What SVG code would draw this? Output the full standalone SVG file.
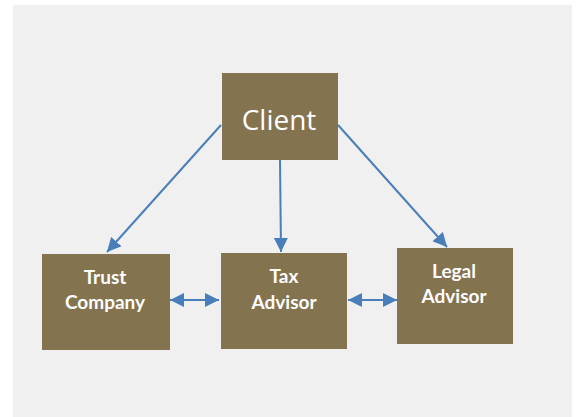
<svg xmlns="http://www.w3.org/2000/svg" width="577" height="417" viewBox="0 0 577 417">
<style>
.box{fill:#84734f}
.lbl{fill:#fff;font-family:Lato,"Open Sans","Liberation Sans",sans-serif;font-weight:bold;font-size:19px;text-anchor:middle}
.big{fill:#fff;font-family:"Open Sans","Liberation Sans",sans-serif;font-size:28px;text-anchor:middle}
.con{stroke:#4a7ebb;stroke-width:2;fill:none}
</style>
<defs>
<marker id="ah" viewBox="0 0 14 14" refX="14" refY="7" markerWidth="14" markerHeight="14" markerUnits="userSpaceOnUse" orient="auto-start-reverse">
<path d="M0,0 L14,7 L0,14 Z" fill="#4a7ebb"/>
</marker>
</defs>
<rect x="13" y="5" width="559" height="412" fill="#f0f0f0"/>
<g id="connectors">
<line class="con" x1="221" y1="125" x2="107" y2="252" marker-end="url(#ah)"/>
<line class="con" x1="280" y1="160" x2="281" y2="252" marker-end="url(#ah)"/>
<line class="con" x1="338" y1="125" x2="447" y2="247" marker-end="url(#ah)"/>
<line class="con" x1="170" y1="300" x2="219" y2="300" marker-start="url(#ah)" marker-end="url(#ah)"/>
<line class="con" x1="348" y1="300" x2="397" y2="300" marker-start="url(#ah)" marker-end="url(#ah)"/>
</g>
<g id="client">
<rect class="box" x="222" y="73" width="116" height="87"/>
<text class="big" x="279" y="130">Client</text>
</g>
<g id="trust">
<rect class="box" x="42" y="254" width="128" height="96"/>
<text class="lbl" x="105" y="284">Trust</text>
<text class="lbl" x="105" y="309">Company</text>
</g>
<g id="tax">
<rect class="box" x="221" y="253" width="126" height="96"/>
<text class="lbl" x="284" y="283">Tax</text>
<text class="lbl" x="284" y="309">Advisor</text>
</g>
<g id="legal">
<rect class="box" x="397" y="248" width="116" height="96"/>
<text class="lbl" x="454" y="278">Legal</text>
<text class="lbl" x="454" y="303">Advisor</text>
</g>
</svg>
